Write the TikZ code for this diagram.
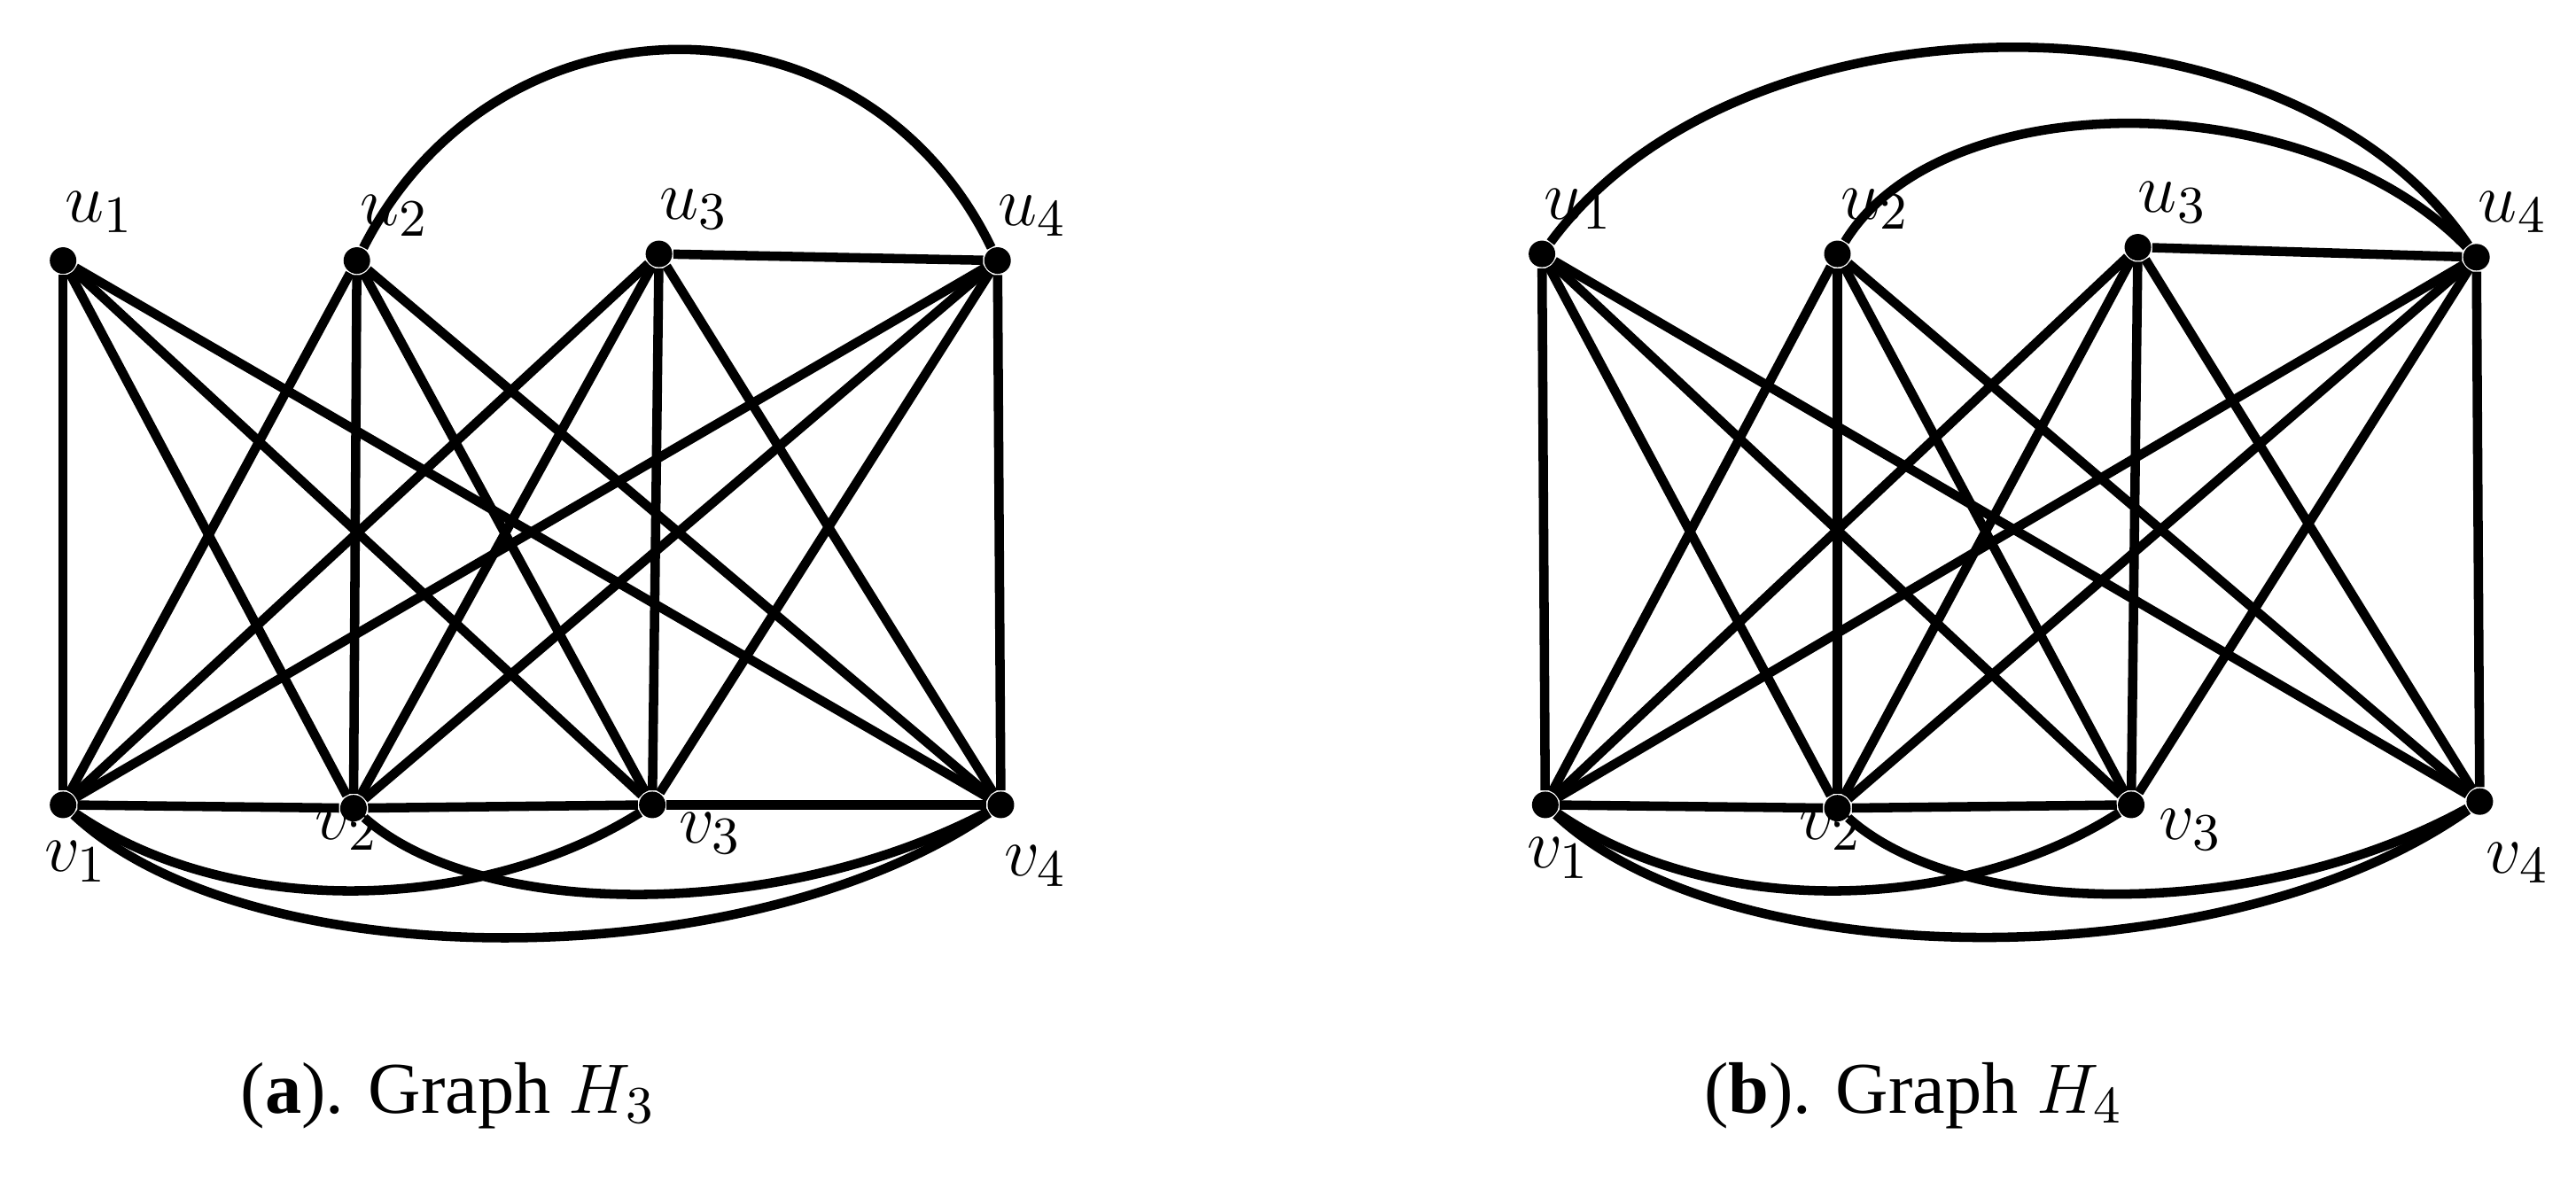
\documentclass[tikz,border=0pt]{standalone}
\usepackage{fontspec}
\setmainfont{Liberation Serif}
\begin{document}
\begin{tikzpicture}[x=0.01cm,y=-0.01cm,
  e/.style={line width=1.6pt},
  dot/.style={circle,fill=black,inner sep=0pt,minimum size=0.16cm},
  lab/.style={font=\fontsize{13}{15}\selectfont,inner sep=0pt},
  captxt/.style={font=\fontsize{12.5}{15}\selectfont,inner sep=0pt}]
\useasboundingbox (0,0) rectangle (1552,716);
% graph a
\node[dot] (a1) at (38,157) {};
\node[dot] (a2) at (215,157) {};
\node[dot] (a3) at (397,153) {};
\node[dot] (a4) at (601,157) {};
\node[dot] (b1) at (38,485) {};
\node[dot] (b2) at (213,487) {};
\node[dot] (b3) at (393,485) {};
\node[dot] (b4) at (603,485) {};
\foreach \i in {1,...,4}{\foreach \j in {1,...,4}{\draw[e] (a\i) -- (b\j);}}
\draw[e] (a3) -- (a4);
\draw[e] (b1) -- (b2);
\draw[e] (b2) -- (b3);
\draw[e] (b3) -- (b4);
\draw[e] (a2) .. controls (300,-10) and (520,-10) .. (a4);
\draw[e] (b1) .. controls (140,555) and (290,550) .. (b3);
\draw[e] (b2) .. controls (290,555) and (470,555) .. (b4);
\draw[e] (b1) .. controls (150,590) and (450,590) .. (b4);
\node[lab] (la1) at (60,128) {$u_1$};
\node[lab] (la2) at (238,130) {$u_2$};
\node[lab] (la3) at (418,126) {$u_3$};
\node[lab] (la4) at (622,130) {$u_4$};
\node[lab] (lb1) at (46,519) {$v_1$};
\node[lab] (lb2) at (209,500) {$v_2$};
\node[lab] (lb3) at (428,502) {$v_3$};
\node[lab] (lb4) at (624,522) {$v_4$};
\node[captxt] (ca) at (270,660) {(\textbf{a}). Graph $H_3$};
% graph b
\node[dot] (c1) at (929,153) {};
\node[dot] (c2) at (1107,153) {};
\node[dot] (c3) at (1288,149) {};
\node[dot] (c4) at (1492,155) {};
\node[dot] (d1) at (931,485) {};
\node[dot] (d2) at (1107,487) {};
\node[dot] (d3) at (1284,485) {};
\node[dot] (d4) at (1494,483) {};
\foreach \i in {1,...,4}{\foreach \j in {1,...,4}{\draw[e] (c\i) -- (d\j);}}
\draw[e] (c3) -- (c4);
\draw[e] (d1) -- (d2);
\draw[e] (d2) -- (d3);
\draw[e] (c1) .. controls (1050,-11) and (1380,-11) .. (c4);
\draw[e] (c2) .. controls (1170,50) and (1390,50) .. (c4);
\draw[e] (d1) .. controls (1033,555) and (1183,550) .. (d3);
\draw[e] (d2) .. controls (1183,555) and (1363,555) .. (d4);
\draw[e] (d1) .. controls (1043,590) and (1343,590) .. (d4);
\node[lab] (lc1) at (951,126) {$u_1$};
\node[lab] (lc2) at (1130,126) {$u_2$};
\node[lab] (lc3) at (1309,122) {$u_3$};
\node[lab] (lc4) at (1514,128) {$u_4$};
\node[lab] (ld1) at (939,517) {$v_1$};
\node[lab] (ld2) at (1103,500) {$v_2$};
\node[lab] (ld3) at (1320,500) {$v_3$};
\node[lab] (ld4) at (1517,520) {$v_4$};
\node[captxt] (cb) at (1153,660) {(\textbf{b}). Graph $H_4$};
\end{tikzpicture}
\end{document}
